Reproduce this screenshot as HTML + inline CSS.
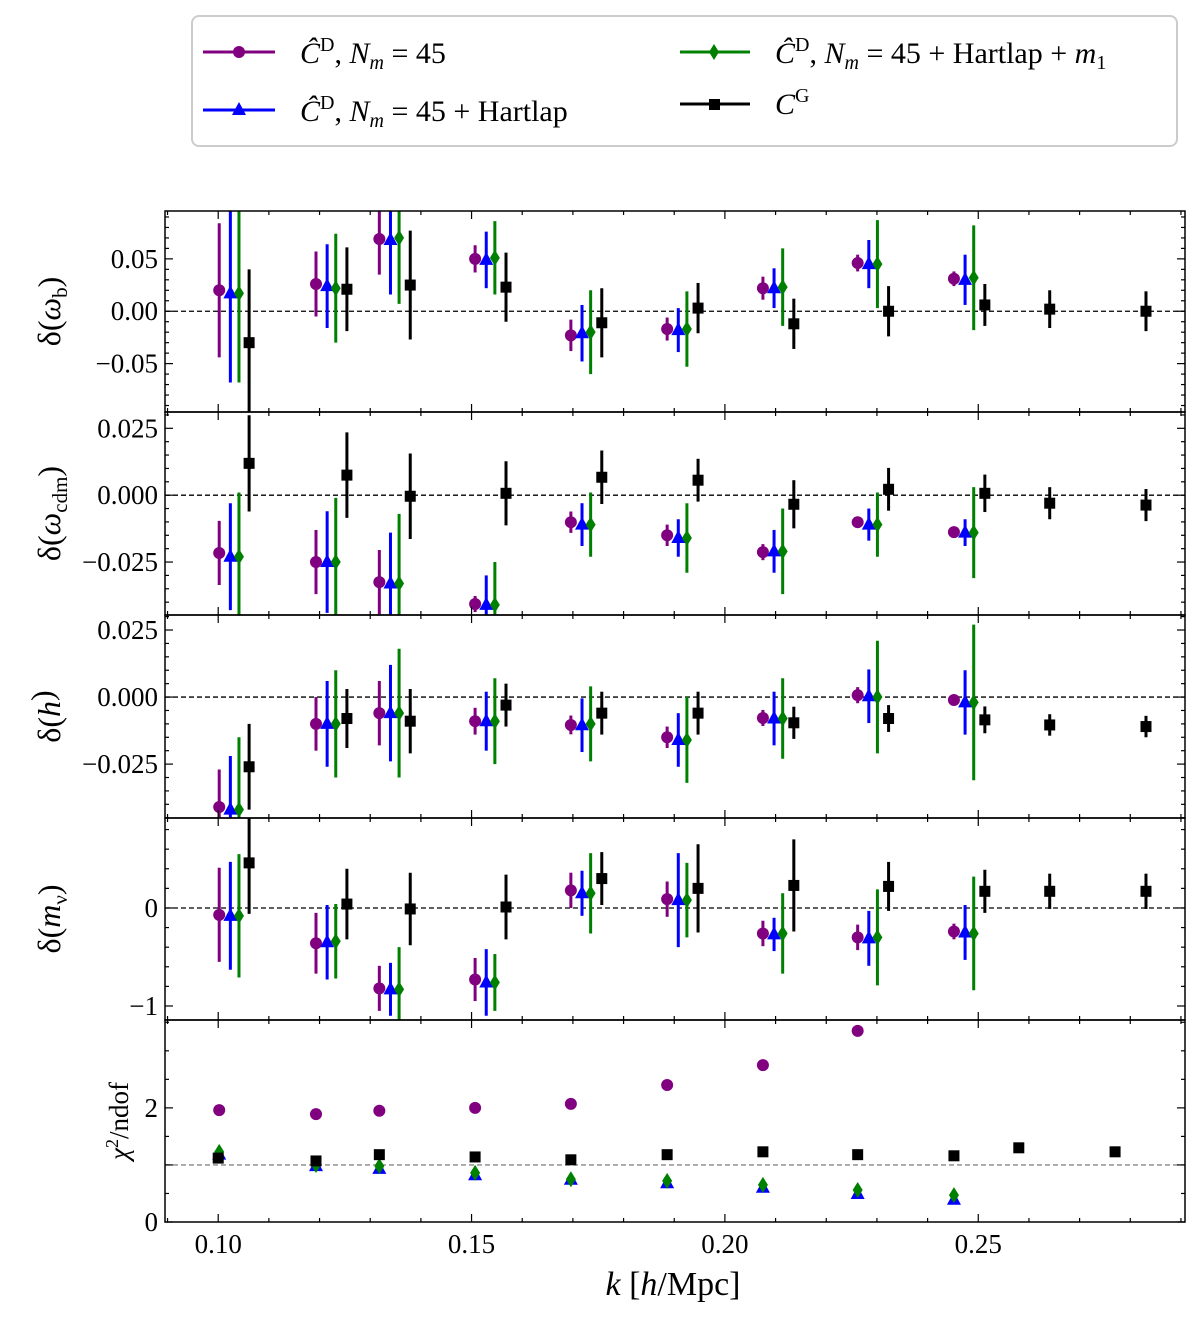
<!DOCTYPE html>
<html><head><meta charset="utf-8"><style>
body{margin:0;background:#fff;}
svg{display:block;font-family:"Liberation Serif",serif;}
</style></head><body>
<svg id="fig" width="1200" height="1324" viewBox="0 0 1200 1324" xmlns="http://www.w3.org/2000/svg">
<g>
<rect x="192" y="16" width="985" height="130" rx="7" fill="#fff" stroke="#ccc" stroke-width="2"/>
<g>
<line x1="203" y1="52" x2="275" y2="52" stroke="#800080" stroke-width="3"/><circle cx="239" cy="52" r="6" fill="#800080"/>
<text x="300" y="63" font-size="30" font-style="italic">Ĉ<tspan font-style="normal" font-size="20" dy="-12">D</tspan><tspan font-style="normal" dy="12">, </tspan>N<tspan font-size="20" dy="6">m</tspan><tspan font-style="normal" dy="-6"> = 45</tspan></text></g>
<g>
<line x1="203" y1="110" x2="275" y2="110" stroke="#0000ff" stroke-width="3"/><polygon points="239,102 246,115 232,115" fill="#0000ff"/>
<text x="300" y="121" font-size="30" font-style="italic">Ĉ<tspan font-style="normal" font-size="20" dy="-12">D</tspan><tspan font-style="normal" dy="12">, </tspan>N<tspan font-size="20" dy="6">m</tspan><tspan font-style="normal" dy="-6"> = 45 + Hartlap</tspan></text></g>
<g>
<line x1="680" y1="52" x2="750" y2="52" stroke="#008000" stroke-width="3"/><polygon points="714,44 719,52 714,60 709,52" fill="#008000"/>
<text x="775" y="63" font-size="30" font-style="italic">Ĉ<tspan font-style="normal" font-size="20" dy="-12">D</tspan><tspan font-style="normal" dy="12">, </tspan>N<tspan font-size="20" dy="6">m</tspan><tspan font-style="normal" dy="-6"> = 45 + Hartlap + </tspan>m<tspan font-style="normal" font-size="20" dy="6">1</tspan></text></g>
<g>
<line x1="680" y1="104" x2="750" y2="104" stroke="#000" stroke-width="3"/><rect x="709" y="99" width="11" height="11" fill="#000"/>
<text x="775" y="114" font-size="30" font-style="italic">C<tspan font-style="normal" font-size="20" dy="-12">G</tspan></text></g>
</g>
<g id="plots"></g>
<text x="673" y="1295" font-size="34" text-anchor="middle"><tspan font-style="italic">k</tspan> [<tspan font-style="italic">h</tspan>/Mpc]</text>
</svg>
<script>
const kD=[0.1002,0.1193,0.1318,0.1507,0.1696,0.1886,0.2075,0.2262,0.2452];
const kG=[0.1000,0.1193,0.1318,0.1507,0.1696,0.1886,0.2075,0.2262,0.2452,0.2580,0.2770];
const wbP=[0.020,0.026,0.069,0.050,-0.023,-0.017,0.022,0.046,0.031];
const wbPe=[0.064,0.031,0.034,0.013,0.015,0.011,0.011,0.008,0.007];
const wbB=[0.017,0.024,0.068,0.049,-0.021,-0.018,0.022,0.045,0.030];
const wbBe=[0.085,0.040,0.052,0.027,0.027,0.021,0.019,0.023,0.024];
const wbG=[0.017,0.022,0.070,0.051,-0.020,-0.017,0.023,0.045,0.032];
const wbGe=[0.085,0.052,0.063,0.035,0.040,0.036,0.037,0.042,0.050];
const wbK=[-0.030,0.021,0.025,0.023,-0.011,0.003,-0.012,0.000,0.006,0.002,0.000];
const wbKe=[0.070,0.040,0.052,0.033,0.033,0.024,0.024,0.024,0.020,0.018,0.019];
const wcP=[-0.0216,-0.025,-0.0325,-0.0407,-0.0101,-0.015,-0.0213,-0.0101,-0.0138];
const wcPe=[0.012,0.012,0.012,0.003,0.004,0.004,0.003,0.002,0.0015];
const wcB=[-0.023,-0.025,-0.033,-0.041,-0.011,-0.016,-0.021,-0.011,-0.014];
const wcBe=[0.020,0.019,0.019,0.011,0.008,0.007,0.008,0.006,0.005];
const wcG=[-0.023,-0.025,-0.033,-0.041,-0.011,-0.016,-0.021,-0.011,-0.014];
const wcGe=[0.024,0.024,0.026,0.016,0.012,0.013,0.016,0.012,0.017];
const wcK=[0.0119,0.0075,-0.0004,0.0007,0.0067,0.0056,-0.0034,0.0022,0.0007,-0.003,-0.0037];
const wcKe=[0.018,0.016,0.016,0.012,0.010,0.008,0.009,0.008,0.007,0.006,0.006];
const hP=[-0.041,-0.010,-0.006,-0.009,-0.0104,-0.015,-0.0078,0.0007,-0.0011];
const hPe=[0.014,0.010,0.012,0.005,0.0035,0.004,0.003,0.003,0.002];
const hB=[-0.042,-0.010,-0.006,-0.009,-0.0105,-0.016,-0.008,0.0003,-0.002];
const hBe=[0.020,0.016,0.018,0.011,0.010,0.010,0.010,0.010,0.012];
const hG=[-0.042,-0.010,-0.006,-0.009,-0.010,-0.016,-0.008,0.000,-0.002];
const hGe=[0.027,0.020,0.024,0.016,0.014,0.016,0.015,0.021,0.029];
const hK=[-0.026,-0.008,-0.009,-0.003,-0.006,-0.006,-0.0096,-0.008,-0.0085,-0.0104,-0.011];
const hKe=[0.016,0.011,0.012,0.008,0.008,0.008,0.006,0.005,0.005,0.004,0.004];
const mP=[-0.07,-0.36,-0.82,-0.73,0.18,0.09,-0.26,-0.30,-0.24];
const mPe=[0.48,0.31,0.23,0.22,0.18,0.18,0.13,0.13,0.08];
const mB=[-0.08,-0.35,-0.83,-0.76,0.15,0.08,-0.27,-0.31,-0.25];
const mBe=[0.55,0.38,0.27,0.34,0.23,0.48,0.17,0.28,0.28];
const mG=[-0.08,-0.34,-0.83,-0.76,0.15,0.08,-0.26,-0.30,-0.26];
const mGe=[0.63,0.38,0.43,0.29,0.41,0.38,0.41,0.49,0.58];
const mK=[0.46,0.04,-0.01,0.01,0.30,0.20,0.23,0.22,0.17,0.17,0.17];
const mKe=[0.52,0.36,0.37,0.33,0.27,0.45,0.47,0.25,0.22,0.18,0.18];
const cP=[1.96,1.89,1.95,2.00,2.07,2.40,2.75,3.35,3.90];
const cB=[1.18,0.98,0.93,0.82,0.74,0.68,0.60,0.49,0.39];
const cG=[1.23,1.00,0.98,0.86,0.75,0.72,0.65,0.56,0.47];
const cK=[1.12,1.07,1.18,1.14,1.09,1.18,1.23,1.18,1.16,1.30,1.23];
const xTicks=[0.10,0.15,0.20,0.25];
const xTickLabels=["0.10","0.15","0.20","0.25"];

const NS="http://www.w3.org/2000/svg";
const X0=165,X1=1185,kmin=0.0895,kmax=0.2908;
const xs=k=>X0+(k-kmin)/(kmax-kmin)*(X1-X0);
const root=document.getElementById('plots');
function el(t,a,p){const e=document.createElementNS(NS,t);for(const k in a)e.setAttribute(k,a[k]);(p||root).appendChild(e);return e;}
const COL={P:"#800080",B:"#0000ff",G:"#008000",K:"#000"};
function marker(g,type,x,y,c){
  let m;
  if(type==='P')m=el('circle',{cx:x,cy:y,r:6,fill:c},g);
  else if(type==='B')m=el('polygon',{points:`${x},${y-8} ${x+7},${y+5} ${x-7},${y+5}`,fill:c},g);
  else if(type==='G')m=el('polygon',{points:`${x},${y-8} ${x+5},${y} ${x},${y+8} ${x-5},${y}`,fill:c},g);
  else m=el('rect',{x:x-5.5,y:y-5.5,width:11,height:11,fill:c},g);
  return m;
}
const panels=[
 {name:'omega-b',top:211,bot:412,ymin:-0.0962,ymax:0.0957,ticks:[0.05,0,-0.05],tl:["0.05","0.00","−0.05"],minor:0.01,
  label:['δ(','ω','b',')'],series:[['P',wbP,wbPe],['B',wbB,wbBe],['G',wbG,wbGe],['K',wbK,wbKe]]},
 {name:'omega-cdm',top:412,bot:615,ymin:-0.0448,ymax:0.0311,ticks:[0.025,0,-0.025],tl:["0.025","0.000","−0.025"],minor:0.005,
  label:['δ(','ω','cdm',')'],series:[['P',wcP,wcPe],['B',wcB,wcBe],['G',wcG,wcGe],['K',wcK,wcKe]]},
 {name:'h',top:615,bot:818,ymin:-0.0451,ymax:0.0306,ticks:[0.025,0,-0.025],tl:["0.025","0.000","−0.025"],minor:0.005,
  label:['δ(','h','',')'],series:[['P',hP,hPe],['B',hB,hBe],['G',hG,hGe],['K',hK,hKe]]},
 {name:'m-nu',top:818,bot:1020,ymin:-1.143,ymax:0.918,ticks:[0,-1],tl:["0","−1"],minor:0.2,
  label:['δ(','m','ν',')'],series:[['P',mP,mPe],['B',mB,mBe],['G',mG,mGe],['K',mK,mKe]]},
 {name:'chi2',top:1020,bot:1222,ymin:0,ymax:3.54,ticks:[2,0],tl:["2","0"],minor:0.5,chi:true,
  series:[['P',cP],['B',cB],['G',cG],['K',cK]]}
];
const offs={P:0,B:0.0022,G:0.0039,K:0.0061};
panels.forEach((p,pi)=>{
  const g=el('g',{});
  
  
  const ys=v=>p.bot-(v-p.ymin)/(p.ymax-p.ymin)*(p.bot-p.top);
  const cid='clip'+pi;
  const cp=el('clipPath',{id:cid},g);el('rect',{x:X0,y:p.top,width:X1-X0,height:p.bot-p.top},cp);
  const ref=el('line',{x1:X0,x2:X1,y1:ys(p.chi?1:0),y2:ys(p.chi?1:0),stroke:p.chi?'#888':'#000','stroke-width':1.3,'stroke-dasharray':'5,3'},g);
  
  
  const dg=el('g',{'clip-path':`url(#${cid})`},g);
  p.series.forEach(([t,vals,errs])=>{
    const sg=el('g',{},dg);
    
    
    const ks=(t==='K')?kG:kD;
    vals.forEach((v,i)=>{
      const k=p.chi?ks[i]:ks[i]+offs[t];
      const x=xs(k),y=ys(v);
      if(errs){const ln=el('line',{x1:x,x2:x,y1:ys(v+errs[i]),y2:ys(v-errs[i]),stroke:COL[t],'stroke-width':3},sg);
        
        }
      const m=marker(sg,t,x,y,COL[t]);
      
      
    });
  });
  el('rect',{x:X0,y:p.top,width:X1-X0,height:p.bot-p.top,fill:'none',stroke:'#000','stroke-width':1.5},g);
  // x ticks
  for(let k=0.09;k<=0.2905;k+=0.01){const x=xs(k);const maj=xTicks.some(t=>Math.abs(t-k)<1e-6);const L=maj?8:4;
    el('line',{x1:x,x2:x,y1:p.bot,y2:p.bot-L,stroke:'#000','stroke-width':1.2},g);
    el('line',{x1:x,x2:x,y1:p.top,y2:p.top+L,stroke:'#000','stroke-width':1.2},g);}
  // y ticks
  const st=Math.ceil(p.ymin/p.minor);
  for(let j=st;j*p.minor<=p.ymax;j++){const v=j*p.minor;const y=ys(v);const maj=p.ticks.some(t=>Math.abs(t-v)<1e-9)||(p.chi&&Math.abs(v-1)<1e-9);const L=maj?8:4;
    el('line',{x1:X0,x2:X0+L,y1:y,y2:y,stroke:'#000','stroke-width':1.2},g);
    el('line',{x1:X1,x2:X1-L,y1:y,y2:y,stroke:'#000','stroke-width':1.2},g);}
  p.ticks.forEach((v,i)=>{const t=el('text',{x:X0-7,y:ys(v)+9,'font-size':27,'text-anchor':'end'},g);t.textContent=p.tl[i];
    
    });
  const yc=(p.top+p.bot)/2;
  const lab=el('text',{transform:`translate(${p.chi?128:60},${yc}) rotate(-90)`,'text-anchor':'middle','font-size':p.chi?27:32},g);
  
  
  if(p.chi){lab.innerHTML='<tspan font-style="italic">χ</tspan><tspan font-size="18" dy="-10">2</tspan><tspan dy="10">/ndof</tspan>';}
  else{lab.innerHTML=`${p.label[0]}<tspan font-style="italic">${p.label[1]}</tspan><tspan font-size="21" dy="7">${p.label[2]}</tspan><tspan dy="-7">${p.label[3]}</tspan>`;}
  if(pi===4){xTicks.forEach((k,i)=>{const t=el('text',{x:xs(k),y:p.bot+31,'font-size':27,'text-anchor':'middle'},g);t.textContent=xTickLabels[i];
    
    });}
});
</script>
</body></html>
